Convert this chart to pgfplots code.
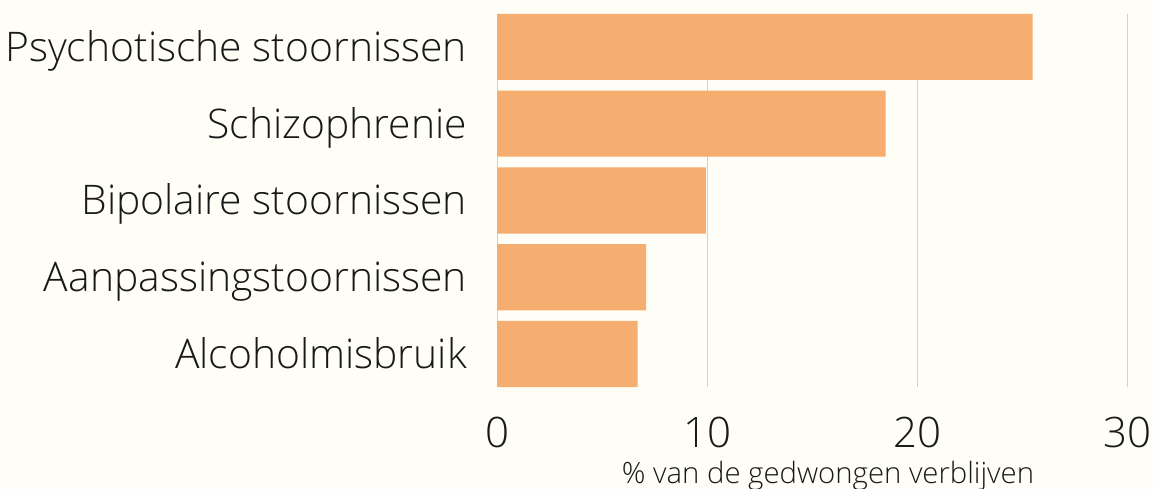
\documentclass[border=0pt]{standalone}
\usepackage{pgfplots}
\pgfplotsset{compat=1.18}
\usepackage{fontspec}
\setmainfont{Open Sans}[UprightFont={* Light}]
\definecolor{bg}{HTML}{FFFEF6}
\definecolor{barc}{HTML}{F6AD70}
\definecolor{gridc}{HTML}{D0D0D0}
\begin{document}
\begin{tikzpicture}[x=1pt,y=1pt]
\fill[bg] (0,0) rectangle (1153,489);
\path[use as bounding box] (0,0) rectangle (1153,489);
\begin{axis}[
  at={(497pt,102pt)}, anchor=south west,
  scale only axis, width=630pt, height=373pt,
  xmin=0, xmax=30, ymin=-0.43, ymax=4.43, y dir=reverse,
  xtick={0,10,20,30}, xticklabels={0,10,20,30},
  ytick={0,1,2,3,4},
  yticklabels={Psychotische stoornissen, Schizophrenie, Bipolaire stoornissen, Aanpassingstoornissen, Alcoholmisbruik},
  axis line style={draw=none}, major tick length=0pt,
  xmajorgrids, major grid style={gridc, line width=1pt},
  yticklabel style={font=\fontsize{40.8pt}{49pt}\selectfont, anchor=base east, inner sep=0pt, xshift=-30pt, yshift=-14.5pt, text=black!90},
  xticklabel style={font=\fontsize{42pt}{50pt}\selectfont, anchor=base, inner sep=0pt, yshift=-60pt, text=black!90},
  xlabel={\% van de gedwongen verblijven},
  xlabel style={font=\fontsize{29.3pt}{34pt}\selectfont, at={(axis description cs:0.5,0)}, anchor=base, inner sep=0pt, yshift=-96pt, xshift=16pt, text=black!90},
]
\addplot[xbar, bar width=0.86, fill=barc, draw=none] coordinates {(25.5,0) (18.5,1) (9.95,2) (7.1,3) (6.7,4)};
\end{axis}
\end{tikzpicture}
\end{document}
